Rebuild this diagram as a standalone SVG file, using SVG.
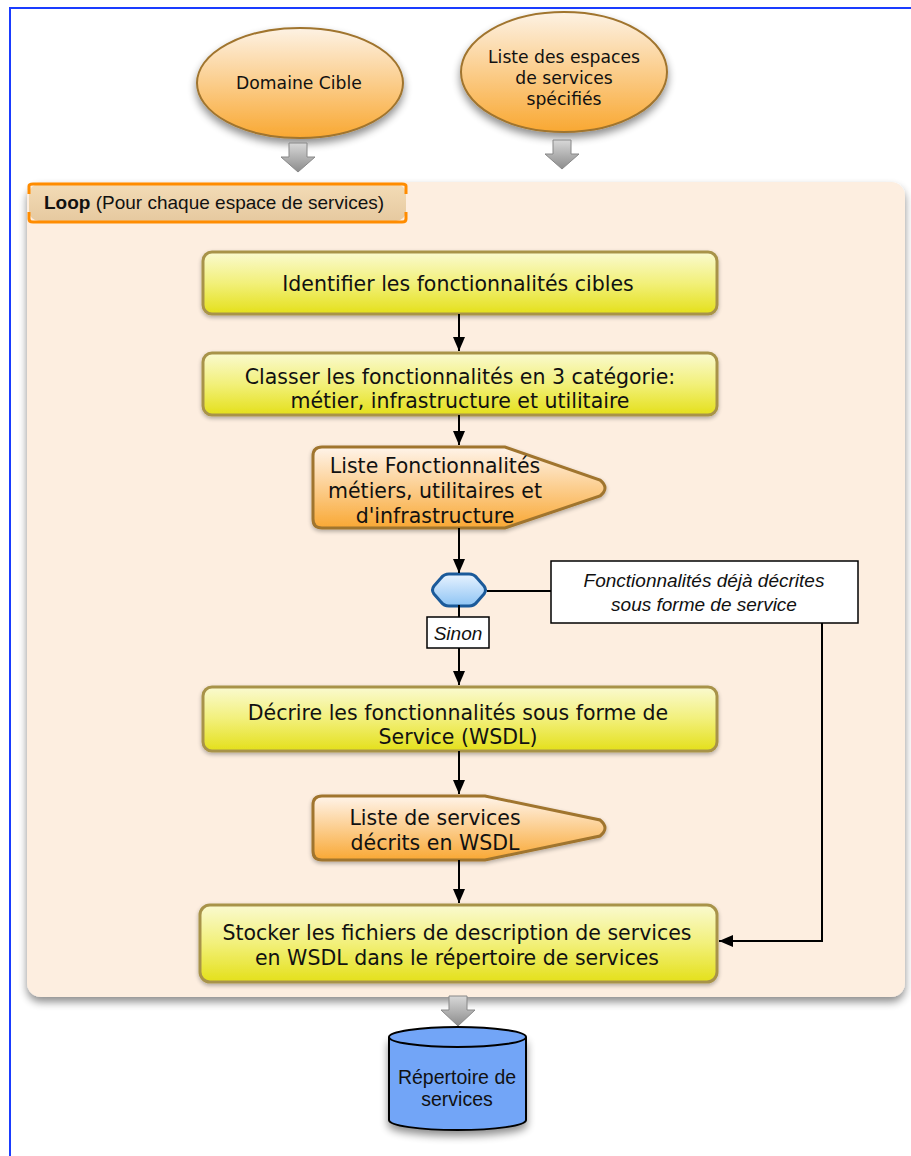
<svg xmlns="http://www.w3.org/2000/svg" width="911" height="1156" viewBox="0 0 911 1156">
<defs>
<linearGradient id="gYel" x1="0" y1="0" x2="0" y2="1">
<stop offset="0" stop-color="#fafad0"/><stop offset="0.5" stop-color="#f2f07a"/><stop offset="1" stop-color="#e4e01a"/>
</linearGradient>
<linearGradient id="gOra" x1="0" y1="0" x2="0" y2="1">
<stop offset="0" stop-color="#fff4ea"/><stop offset="1" stop-color="#f9a834"/>
</linearGradient>
<linearGradient id="gEll" x1="0" y1="0" x2="0" y2="1">
<stop offset="0" stop-color="#fdf2e4"/><stop offset="1" stop-color="#f9a832"/>
</linearGradient>
<linearGradient id="gDia" x1="0" y1="0" x2="0" y2="1">
<stop offset="0" stop-color="#e8f3ff"/><stop offset="1" stop-color="#8ec4f4"/>
</linearGradient>
<linearGradient id="gGrey" x1="0" y1="0" x2="0" y2="1">
<stop offset="0" stop-color="#d8d8d8"/><stop offset="1" stop-color="#8c8c8c"/>
</linearGradient>
<linearGradient id="gLoop" x1="0" y1="0" x2="0" y2="1">
<stop offset="0" stop-color="#f3dcb6"/><stop offset="1" stop-color="#e6c9a0"/>
</linearGradient>
<filter id="sh" x="-20%" y="-20%" width="140%" height="150%">
<feGaussianBlur in="SourceAlpha" stdDeviation="4"/>
<feOffset dx="0" dy="5" result="b"/>
<feComponentTransfer><feFuncA type="linear" slope="0.45"/></feComponentTransfer>
<feMerge><feMergeNode/><feMergeNode in="SourceGraphic"/></feMerge>
</filter>
<filter id="shs" x="-10%" y="-10%" width="120%" height="130%">
<feGaussianBlur in="SourceAlpha" stdDeviation="2"/>
<feOffset dx="0" dy="2" result="b"/>
<feComponentTransfer><feFuncA type="linear" slope="0.3"/></feComponentTransfer>
<feMerge><feMergeNode/><feMergeNode in="SourceGraphic"/></feMerge>
</filter>
<marker id="ahb" viewBox="0 0 14 12" refX="14" refY="6" markerWidth="14" markerHeight="12" markerUnits="userSpaceOnUse" orient="auto">
<path d="M0,0 L14,6 L0,12 Z" fill="#000"/>
</marker>
</defs>
<style>
.box{fill:url(#gYel);stroke:#a8934a;stroke-width:3}
.doc{fill:url(#gOra);stroke:#a0742e;stroke-width:3}
.t{font-family:"DejaVu Sans","Noto Sans",sans-serif;font-size:20.5px;fill:#111;text-anchor:middle}
.e{font-family:"DejaVu Sans","Noto Sans",sans-serif;font-size:17.2px;fill:#111;text-anchor:middle}
.a{font-family:"Liberation Sans",Arial,sans-serif;font-size:19.5px;fill:#111;text-anchor:middle}
.i{font-family:"Liberation Sans",Arial,sans-serif;font-size:19px;font-style:italic;fill:#111;text-anchor:middle}
.c{stroke:#000;stroke-width:2;fill:none}
.grey{fill:url(#gGrey);stroke:#888;stroke-width:1}
</style>
<rect x="0" y="0" width="911" height="1156" fill="#fff"/>
<rect x="10" y="8" width="940" height="1180" fill="none" stroke="#1a3cff" stroke-width="2"/>

<g id="loop">
<rect x="27" y="182" width="878" height="815" rx="14" fill="#fdeee0" filter="url(#sh)"/>
<rect x="29" y="184" width="377" height="37" rx="10" fill="url(#gLoop)"/>
<path d="M29,194 V186 Q29,184 33,184 H402 Q406,184 406,186 V194" fill="none" stroke="#ff8c00" stroke-width="3"/>
<path d="M29,212 V219 Q29,222 33,222 H402 Q406,222 406,219 V212" fill="none" stroke="#ff8c00" stroke-width="3"/>
<text x="44" y="209" font-family="Liberation Sans,Arial,sans-serif" font-size="19" fill="#111"><tspan font-weight="bold">Loop</tspan> (Pour chaque espace de services)</text>
</g>

<g id="domaine">
<ellipse cx="300" cy="83" rx="103" ry="55" fill="url(#gEll)" stroke="#a0742e" stroke-width="2" filter="url(#sh)"/>
<text class="e" x="299" y="89">Domaine Cible</text>
</g>
<g id="liste-espaces">
<ellipse cx="564" cy="72" rx="103" ry="60" fill="url(#gEll)" stroke="#a0742e" stroke-width="2" filter="url(#sh)"/>
<text class="e" x="564" y="63">Liste des espaces</text>
<text class="e" x="564" y="84">de services</text>
<text class="e" x="564" y="105">spécifiés</text>
</g>

<g id="flow-arrows">
<path class="grey" d="M289,143 H307 V157 H315 L298,172 L281,157 H289 Z"/>
<path class="grey" d="M553,140 H571 V154 H579 L562,169 L545,154 H553 Z"/>
<path class="grey" d="M449,996 H467 V1010 H475 L458,1026 L441,1010 H449 Z"/>
</g>

<g id="identifier">
<rect class="box" x="203" y="252" width="514" height="62" rx="9" filter="url(#shs)"/>
<text class="t" x="458" y="291">Identifier les fonctionnalités cibles</text>
</g>
<g id="classer">
<rect class="box" x="203" y="353" width="514" height="62" rx="9" filter="url(#shs)"/>
<text class="t" x="460" y="384">Classer les fonctionnalités en 3 catégorie:</text>
<text class="t" x="460" y="408">métier, infrastructure et utilitaire</text>
</g>
<g id="liste-fonct">
<path class="doc" d="M322,447 H505 L600,480 Q610,488 600,496 L505,528 H322 Q313,528 313,519 V456 Q313,447 322,447 Z" filter="url(#shs)"/>
<text class="t" x="435" y="473">Liste Fonctionnalités</text>
<text class="t" x="435" y="498">métiers, utilitaires et</text>
<text class="t" x="435" y="523">d'infrastructure</text>
</g>
<g id="decision">
<path d="M449,574 H469 Q474,574 477,578 L484,586 Q487,590 484,594 L477,602 Q474,606 469,606 H449 Q444,606 441,602 L434,594 Q431,590 434,586 L441,578 Q444,574 449,574 Z" fill="url(#gDia)" stroke="#1b5a9a" stroke-width="3" stroke-linejoin="round"/>
</g>
<g id="note">
<rect x="551" y="561" width="307" height="62" fill="#fff" stroke="#000" stroke-width="1.5"/>
<text class="i" x="704" y="587">Fonctionnalités déjà décrites</text>
<text class="i" x="704" y="611">sous forme de service</text>
</g>
<g id="sinon">
<rect x="427" y="617" width="62" height="31" fill="#fff" stroke="#000" stroke-width="1.5"/>
<text class="i" x="458" y="640">Sinon</text>
</g>
<g id="decrire">
<rect class="box" x="203" y="687" width="514" height="64" rx="9" filter="url(#shs)"/>
<text class="t" x="458" y="720">Décrire les fonctionnalités sous forme de</text>
<text class="t" x="458" y="744">Service (WSDL)</text>
</g>
<g id="liste-services">
<path class="doc" d="M322,796 H485 L600,820 Q610,828 600,836 L485,860 H322 Q313,860 313,851 V805 Q313,796 322,796 Z" filter="url(#shs)"/>
<text class="t" x="435" y="825">Liste de services</text>
<text class="t" x="435" y="850">décrits en WSDL</text>
</g>
<g id="stocker">
<rect class="box" x="200" y="905" width="517" height="77" rx="10" filter="url(#shs)"/>
<text class="t" x="457" y="940">Stocker les fichiers de description de services</text>
<text class="t" x="457" y="965">en WSDL dans le répertoire de services</text>
</g>
<g id="repertoire">
<path d="M389,1037 V1120 A68,10 0 0 0 526,1120 V1037" fill="#72a5f7" stroke="#000" stroke-width="2" filter="url(#sh)"/>
<ellipse cx="457.5" cy="1037" rx="68.5" ry="10" fill="#72a5f7" stroke="#000" stroke-width="2"/>
<text class="a" x="457" y="1084">Répertoire de</text>
<text class="a" x="457" y="1106">services</text>
</g>

<g id="connectors">
<line class="c" x1="459" y1="314" x2="459" y2="351" marker-end="url(#ahb)"/>
<line class="c" x1="459" y1="415" x2="459" y2="445" marker-end="url(#ahb)"/>
<line class="c" x1="459" y1="528" x2="459" y2="573" marker-end="url(#ahb)"/>
<line class="c" x1="459" y1="605" x2="459" y2="617"/>
<line class="c" x1="459" y1="648" x2="459" y2="685" marker-end="url(#ahb)"/>
<line class="c" x1="487" y1="591" x2="551" y2="591"/>
<line class="c" x1="459" y1="751" x2="459" y2="794" marker-end="url(#ahb)"/>
<line class="c" x1="459" y1="860" x2="459" y2="903" marker-end="url(#ahb)"/>
<polyline class="c" points="822,623 822,941 719,941" marker-end="url(#ahb)"/>
</g>
</svg>
